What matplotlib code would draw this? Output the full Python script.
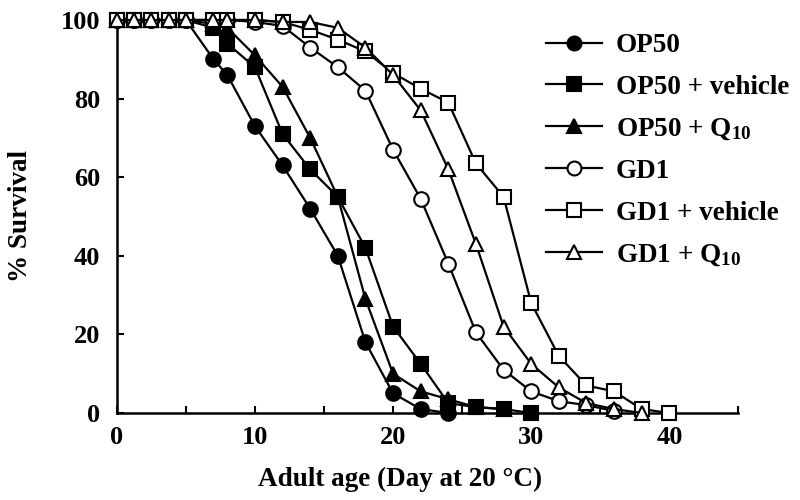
import matplotlib
matplotlib.use("Agg")
import matplotlib.pyplot as plt

plt.rcParams['font.family'] = ['Liberation Serif', 'DejaVu Serif']
plt.rcParams['font.weight'] = 'bold'
plt.rcParams['mathtext.fontset'] = 'custom'
plt.rcParams['mathtext.rm'] = 'Liberation Serif:bold'
plt.rcParams['mathtext.default'] = 'rm'

# survival curves (day, % alive)
early_days = [0, 1.25, 2.5, 3.75, 5]

op50_days = early_days + [7, 8, 10, 12, 14, 16, 18, 20, 22, 24]
op50_surv = [100] * 5 + [90, 86, 73, 63, 52, 40, 18, 5, 1, 0]

op50_veh_days = early_days + [7, 8, 10, 12, 14, 16, 18, 20, 22, 24, 26, 28, 30]
op50_veh_surv = [100] * 5 + [98, 94, 88, 71, 62, 55, 42, 22, 12.5, 2.5, 1.5, 1, 0]

op50_q10_days = early_days + [7, 8, 10, 12, 14, 16, 18, 20, 22, 24, 26, 28]
op50_q10_surv = [100] * 5 + [99, 98, 91, 83, 70, 55, 29, 10, 5.5, 3.5, 1.5, 1]

gd1_days = early_days + [7, 8, 10, 12, 14, 16, 18, 20, 22, 24, 26, 28, 30, 32, 34, 36]
gd1_surv = [100] * 5 + [100, 100, 99.5, 98.5, 93, 88, 82, 67, 54.5, 38, 20.5, 11, 5.5, 3, 2, 0.5]

gd1_veh_days = early_days + [7, 8, 10, 12, 14, 16, 18, 20, 22, 24, 26, 28, 30, 32, 34, 36, 38, 40]
gd1_veh_surv = [100] * 5 + [100, 100, 100, 99.5, 97.5, 95, 92, 86.5, 82.5, 79, 63.5, 55, 28, 14.5, 7, 5.5, 1, 0]

gd1_q10_days = early_days + [7, 8, 10, 12, 14, 16, 18, 20, 22, 24, 26, 28, 30, 32, 34, 36, 38]
gd1_q10_surv = [100] * 5 + [100, 100, 100, 99.5, 99.5, 98, 93, 86, 77, 62, 43, 22, 12.5, 6.5, 2.5, 1, 0]

labels = ['OP50', 'OP50 + vehicle', 'OP50 + Q$_{10}$',
          'GD1', 'GD1 + vehicle', 'GD1 + Q$_{10}$']

x_ticks = [0, 10, 20, 30, 40]
y_ticks = [0, 20, 40, 60, 80, 100]

fig = plt.figure(figsize=(8, 5), dpi=100)
ax = fig.add_axes([0.146, 0.174, 0.777, 0.786])

series = [
    (op50_days, op50_surv, 'o', 'black'),
    (op50_veh_days, op50_veh_surv, 's', 'black'),
    (op50_q10_days, op50_q10_surv, '^', 'black'),
    (gd1_days, gd1_surv, 'o', 'white'),
    (gd1_veh_days, gd1_veh_surv, 's', 'white'),
    (gd1_q10_days, gd1_q10_surv, '^', 'white'),
]

for (d, s, m, fc), lab in zip(series, labels):
    ax.plot(d, s, color='black', lw=1.6, marker=m, markersize=10.5 if m != 's' else 10,
            markerfacecolor=fc, markeredgecolor='black', markeredgewidth=1.5,
            label=lab, clip_on=False, zorder=3)

ax.set_xlim(0, 45)
ax.set_ylim(0, 100)
ax.set_xticks(x_ticks)
ax.set_xticks([5, 15, 25, 35, 45], minor=True)
ax.set_yticks(y_ticks)
ax.tick_params(axis='both', which='both', direction='in', length=5, width=1.5,
               labelsize=19)
ax.tick_params(axis='x', pad=9)
ax.tick_params(axis='y', pad=12)
for side in ['top', 'right']:
    ax.spines[side].set_visible(False)
for side in ['left', 'bottom']:
    ax.spines[side].set_linewidth(1.8)

ax.set_xlabel('Adult age (Day at 20 °C)', fontsize=19.5, fontweight='bold')
ax.set_ylabel('% Survival', fontsize=19.5, fontweight='bold')
ax.xaxis.set_label_coords(0.456, -0.137)
ax.yaxis.set_label_coords(-0.135, 0.50)

leg = fig.legend(loc='upper left', bbox_to_anchor=(0.665, 0.961), frameon=False,
                 fontsize=19.5, handlelength=2.1, labelspacing=0.62,
                 handletextpad=0.5, borderpad=0)
for h in leg.legend_handles:
    h.set_markersize(10)

fig.savefig('out.png', dpi=100)
